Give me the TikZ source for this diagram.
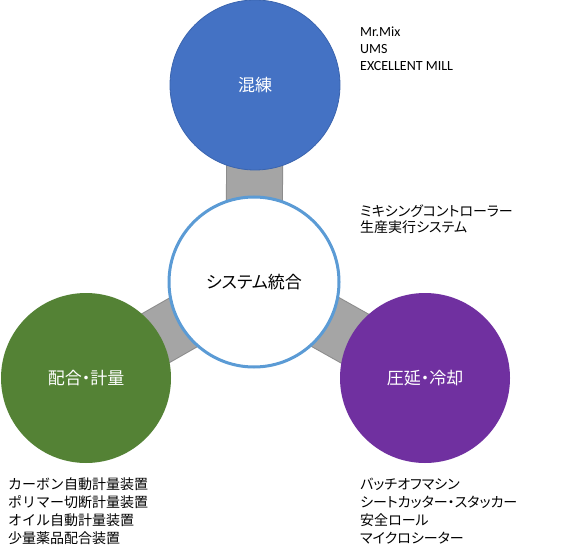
\documentclass[tikz,border=0pt]{standalone}
\usepackage{fontspec}
\setmainfont{Carlito}
\newfontfamily\jp{Noto Sans CJK JP}
\newfontfamily\jpp{Noto Sans CJK JP}[RawFeature=+palt]
\usetikzlibrary{backgrounds}
\definecolor{topblue}{HTML}{4472C4}
\definecolor{topedge}{HTML}{3A64AE}
\definecolor{ringblue}{HTML}{5B9BD5}
\definecolor{mixgreen}{HTML}{548235}
\definecolor{rollpurple}{HTML}{7030A0}
\definecolor{linkgray}{HTML}{A5A5A5}
\definecolor{linkedge}{HTML}{8C8C8C}
\tikzset{
  bigcircle/.style={circle, minimum size=170pt, inner sep=0pt, text=white, font=\jpp\fontsize{17}{20}\selectfont},
  linkbar/.style={line width=55pt, draw=linkgray},
  linkedgebar/.style={line width=57pt, draw=linkedge},
  latinline/.style={anchor=base west, inner sep=0pt, font=\fontsize{14}{17}\selectfont},
  jpline/.style={anchor=base west, inner sep=0pt, font=\jp\fontsize{14}{17}\selectfont},
  jppline/.style={anchor=base west, inner sep=0pt, font=\jpp\fontsize{14}{17}\selectfont}
}
\begin{document}
\begin{tikzpicture}[x=1pt, y=-1pt]
\useasboundingbox (0,0) rectangle (580,553);
% circles
\node[bigcircle, fill=topblue, draw=topedge, line width=0.8pt] (kneading) at (255,85) {混練};
\node[bigcircle, fill=white, draw=ringblue, line width=3pt, minimum size=170pt, text=black] (system) at (254,282) {システム統合};
\node[bigcircle, fill=mixgreen] (weighing) at (86,378) {配合・計量};
\node[bigcircle, fill=rollpurple] (rolling) at (425,378) {圧延・冷却};
% connectors
\begin{scope}[on background layer]
\fill[white] (0,0) rectangle (580,553);
\draw[linkedgebar] (kneading.center) -- (system.center);
\draw[linkedgebar] (weighing.center) -- (system.center);
\draw[linkedgebar] (rolling.center) -- (system.center);
\draw[linkbar] (kneading.center) -- (system.center);
\draw[linkbar] (weighing.center) -- (system.center);
\draw[linkbar] (rolling.center) -- (system.center);
\end{scope}
% top right texts
\node[latinline] (t1) at (360,37) {Mr.Mix};
\node[latinline] (t2) at (360,54) {UMS};
\node[latinline] (t3) at (360,71) {EXCELLENT MILL};
\node[jppline] (s1) at (360,216) {ミキシングコントローラー};
\node[jppline] (s2) at (360,233) {生産実行システム};
% bottom left
\node[jpline] (w1) at (8,489) {カーボン自動計量装置};
\node[jpline] (w2) at (8,507) {ポリマー切断計量装置};
\node[jpline] (w3) at (8,525) {オイル自動計量装置};
\node[jpline] (w4) at (8,543) {少量薬品配合装置};
% bottom right
\node[jppline] (r1) at (360,489) {バッチオフマシン};
\node[jppline] (r2) at (360,507) {シートカッター・スタッカー};
\node[jppline] (r3) at (360,525) {安全ロール};
\node[jppline] (r4) at (360,543) {マイクロシーター};
\end{tikzpicture}
\end{document}
